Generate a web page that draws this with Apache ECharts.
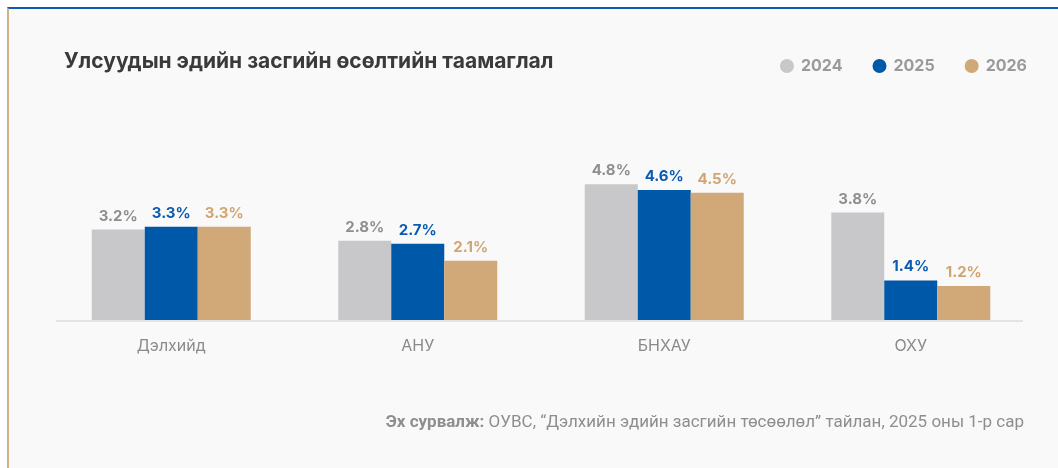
<!DOCTYPE html>
<html>
<head>
<meta charset="utf-8">
<script src="https://cdn.jsdelivr.net/npm/echarts@6/dist/echarts.min.js"></script>
<style>
  html, body { margin: 0; padding: 0; background: #fff; }
  #frame {
    position: absolute; left: 7px; top: 7px; width: 1051px; height: 461px;
    background: #f9f9f9;
    border-top: 2px solid #0a5cb2;
    border-left: 2px solid #d6b088;
    box-sizing: border-box;
  }
  #chart { position: absolute; left: 0; top: 0; width: 1058px; height: 468px; }
</style>
</head>
<body>
<div id="frame"></div>
<div id="chart"></div>
<script>
// категориуд ба утгууд (%)
const categories = ['Дэлхийд', 'АНУ', 'БНХАУ', 'ОХУ']
const years = ['2024', '2025', '2026']
const growth2024 = [3.2, 2.8, 4.8, 3.8]
const growth2025 = [3.3, 2.7, 4.6, 1.4]
const growth2026 = [3.3, 2.1, 4.5, 1.2]

const barColors = ['#c8c8ca', '#0059a8', '#d1a878']
const labelColors = ['#8e8e90', '#0a5cb2', '#d0a572']
const seriesData = [growth2024, growth2025, growth2026]

const chart = echarts.init(document.getElementById('chart'))

const option = {
  backgroundColor: 'transparent',
  animation: false,
  textStyle: { fontFamily: 'Inter, "Noto Sans", sans-serif' },
  title: [
    {
      text: 'Улсуудын эдийн засгийн өсөлтийн таамаглал',
      left: 59,
      top: 46,
      textStyle: { fontSize: 21, fontWeight: 'bold', color: '#3a3a3c', fontFamily: 'Inter' }
    },
    {
      text: '{b|Эх сурвалж:} ОУВС, “Дэлхийн эдийн засгийн төсөөлөл” тайлан, 2025 оны 1-р сар',
      right: 29,
      top: 409,
      textStyle: {
        fontSize: 17, fontWeight: 'normal', color: '#8e8e90', fontFamily: 'Roboto',
        rich: {
          b: { fontSize: 17, fontWeight: 'bold', color: '#8e8e90', fontFamily: 'Roboto' }
        }
      }
    }
  ],
  legend: {
    data: years,
    right: 26,
    top: 53,
    icon: 'circle',
    itemWidth: 14,
    itemHeight: 14,
    itemGap: 30,
    textStyle: { fontSize: 16, fontWeight: 'bold', color: '#9a9a9c', fontFamily: 'Inter', padding: [0, 0, 0, 2] }
  },
  grid: { left: 48, right: 24, top: 108, bottom: 148 },
  xAxis: {
    type: 'category',
    data: categories,
    axisLine: { show: false },
    axisTick: { show: false },
    axisLabel: { margin: 18, fontSize: 16, color: '#8a8a8c', fontFamily: 'Inter' }
  },
  yAxis: {
    type: 'value',
    min: 0,
    max: 7.5,
    show: false,
    splitLine: { show: false }
  },
  graphic: [
    {
      type: 'line',
      shape: { x1: 56, y1: 321, x2: 1023, y2: 321 },
      style: { stroke: '#e3e3e3', lineWidth: 2 },
      z: 0
    }
  ],
  series: years.map((y, i) => ({
    name: y,
    type: 'bar',
    data: seriesData[i],
    barWidth: 53,
    barGap: '0%',
    itemStyle: { color: barColors[i] },
    label: {
      show: true,
      position: 'top',
      distance: 6,
      formatter: p => p.value.toFixed(1) + '%',
      fontSize: 15,
      fontWeight: 'bold',
      color: labelColors[i],
      fontFamily: 'Inter'
    },
    z: 2
  }))
}

chart.setOption(option)
</script>
</body>
</html>
